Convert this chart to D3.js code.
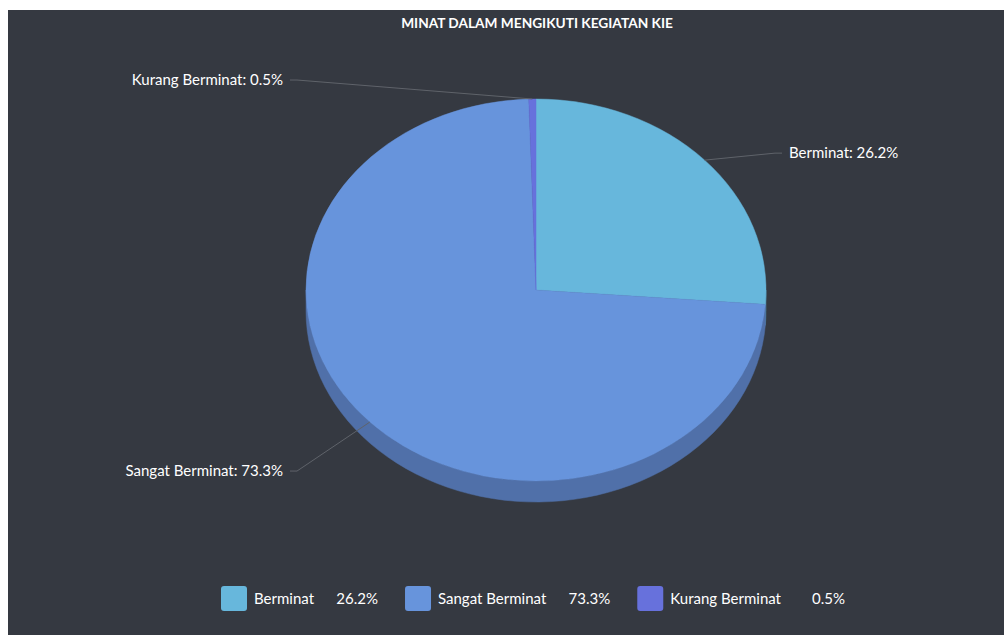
<!DOCTYPE html>
<html>
<head>
<meta charset="utf-8">
<script src="https://cdn.jsdelivr.net/npm/d3@7"></script>
<style>
    body { margin: 0; background: #ffffff; }
    svg { display: block; }
    text { font-family: Lato, "Noto Sans", sans-serif; fill: #ffffff; }
</style>
</head>
<body>
<div id="chart"></div>
<script>
// data
var categories = ["Berminat", "Sangat Berminat", "Kurang Berminat"];
var values = [26.2, 73.3, 0.5];
var colors = ["#67b7dc", "#6794dc", "#6771dc"];
var sideColors = ["#5290ae", "#5070a9", "#5057a9"];
var titleText = "MINAT DALAM MENGIKUTI KEGIATAN KIE";

var width = 1004, height = 635;
var cx = 536, cy = 290, rx = 230, ry = 191, depth = 21;
// vertical shift of each outside label from its slice edge point
var labelShift = [-7, 49, -19];

var svg = d3.select("#chart").append("svg")
    .attr("width", width)
    .attr("height", height);

svg.append("rect")
    .attr("x", 8).attr("y", 10)
    .attr("width", width - 8).attr("height", height - 10)
    .attr("fill", "#353941");

svg.append("text")
    .attr("x", cx + 1).attr("y", 28)
    .attr("text-anchor", "middle")
    .style("font-size", "13.7px")
    .style("font-weight", "bold")
    .text(titleText);

var pie = d3.pie().sort(null).value(function (d) { return d; });
var arcs = pie(values);

function edge(a, dy) {
    return [cx + rx * Math.sin(a), cy - ry * Math.cos(a) + (dy || 0)];
}

// side walls (front half only)
var sides = svg.append("g").attr("class", "sides");
arcs.forEach(function (d, i) {
    var s = Math.max(d.startAngle, Math.PI / 2),
        e = Math.min(d.endAngle, Math.PI * 1.5);
    if (s >= e) return;
    var steps = d3.range(0, 61).map(function (k) { return s + (e - s) * k / 60; });
    var pts = steps.map(function (a) { return edge(a); })
        .concat(steps.slice().reverse().map(function (a) { return edge(a, depth); }));
    sides.append("path")
        .attr("d", d3.line()(pts) + "Z")
        .attr("fill", sideColors[i])
        .attr("stroke", sideColors[i])
        .attr("stroke-width", 0.5);
});

// top faces
var arc = d3.arc().innerRadius(0).outerRadius(rx);
svg.append("g")
    .attr("transform", "translate(" + cx + "," + cy + ") scale(1," + (ry / rx) + ")")
    .selectAll("path")
    .data(arcs)
    .enter().append("path")
    .attr("d", arc)
    .attr("fill", function (d, i) { return colors[i]; })
    .attr("stroke", function (d, i) { return colors[i]; })
    .attr("stroke-width", 0.5);

// outside labels with ticks
var labels = svg.append("g").attr("class", "labels");
arcs.forEach(function (d, i) {
    var mid = (d.startAngle + d.endAngle) / 2;
    var p = edge(mid);
    var dir = Math.sin(mid) >= 0 ? 1 : -1;
    var ly = p[1] + labelShift[i];
    var bend = [cx + dir * (rx + 9), ly];
    var end = [cx + dir * (rx + 16), ly];
    labels.append("path")
        .attr("d", d3.line()([p, bend, end]))
        .attr("fill", "none")
        .attr("stroke", "#5f636a")
        .attr("stroke-width", 1);
    labels.append("text")
        .attr("x", cx + dir * (rx + 23))
        .attr("y", ly)
        .attr("dy", "0.35em")
        .attr("text-anchor", dir > 0 ? "start" : "end")
        .style("font-size", "15px")
        .text(categories[i] + ": " + values[i].toFixed(1) + "%");
});

// legend
var legend = svg.append("g").attr("class", "legend");
var lx = 0;
categories.forEach(function (c, i) {
    var g = legend.append("g");
    g.append("rect")
        .attr("x", 0).attr("y", -13)
        .attr("width", 26).attr("height", 25)
        .attr("rx", 3)
        .attr("fill", colors[i]);
    var t = g.append("text")
        .attr("x", 33).attr("y", 5)
        .style("font-size", "15px")
        .text(c);
    var tw = t.node().getComputedTextLength();
    var valEnd = 33 + tw + 24 + 40;
    g.append("text")
        .attr("x", valEnd).attr("y", 5)
        .attr("text-anchor", "end")
        .style("font-size", "15px")
        .text(values[i].toFixed(1) + "%");
    g.attr("transform", "translate(" + lx + ",0)");
    lx += valEnd + 27;
});
var legendW = lx - 27;
legend.attr("transform", "translate(" + (533 - legendW / 2) + ",599)");
</script>
</body>
</html>
